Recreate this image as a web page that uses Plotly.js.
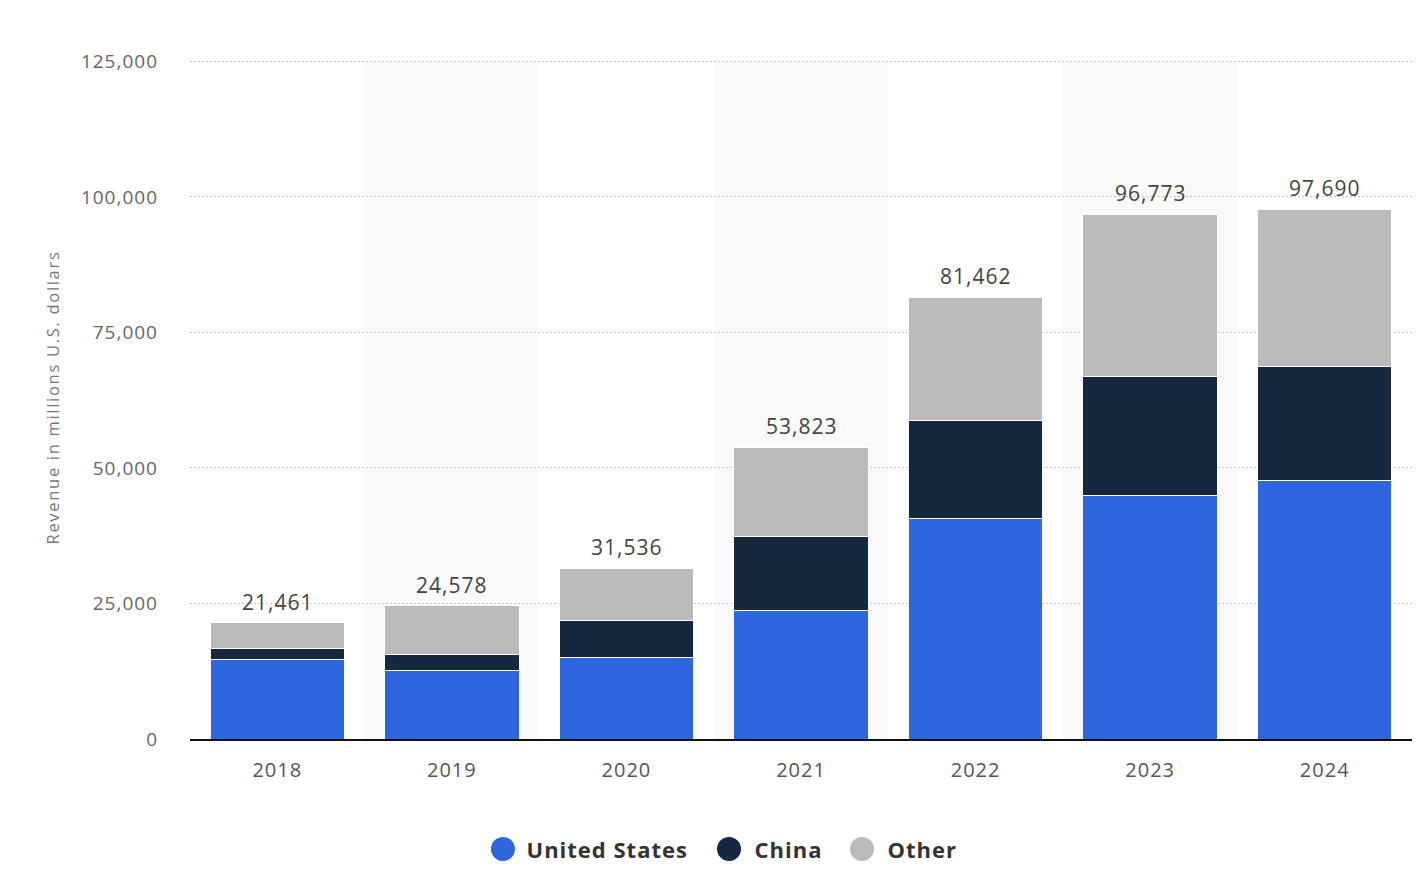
<!DOCTYPE html>
<html>
<head>
<meta charset="utf-8">
<script src="https://cdn.plot.ly/plotly-3.0.1.min.js"></script>
<style>
html,body{margin:0;padding:0;background:#fff;}
#chart{width:1424px;height:884px;}
#chart .xtick text, #chart .ytick text, #chart .annotation-text {letter-spacing:1px;}
#chart .g-ytitle text {letter-spacing:1.7px;}
</style>
</head>
<body>
<div id="chart"></div>
<script>
const years = ['2018','2019','2020','2021','2022','2023','2024'];
const unitedStates = [14740, 12570, 15110, 23780, 40640, 44960, 47640];
const china = [1870, 3000, 6720, 13640, 18180, 21840, 21130];
const other = [4851, 9008, 9706, 16403, 22642, 29973, 28920];
const totals = [21461, 24578, 31536, 53823, 81462, 96773, 97690];
const yTicks = [0, 25000, 50000, 75000, 100000, 125000];
const seriesNames = ['United States', 'China', 'Other'];
const seriesColors = ['#2d66de', '#162740', '#bababa'];

const lineW = {color: '#ffffff', width: 1};
const seriesValues = [unitedStates, china, other];

const traces = seriesValues.map((vals, i) => ({
  type: 'bar', name: seriesNames[i], x: years, y: vals,
  marker: {color: seriesColors[i], line: lineW}, showlegend: false
}));

const bands = [1, 3, 5].map(i => ({
  type: 'rect', xref: 'x', yref: 'y', x0: i - 0.5, x1: i + 0.5, y0: 0, y1: 125000,
  fillcolor: '#f9f9f9', line: {width: 0}, layer: 'below'
}));

// custom legend (large circle markers)
const legCircleX = [0.2561, 0.4411, 0.5499];
const legTextX = [0.2791, 0.4624, 0.5712];
const legY = -0.161;
const legendShapes = seriesNames.map((n, i) => ({
  type: 'circle', xref: 'paper', yref: 'paper', xsizemode: 'pixel', ysizemode: 'pixel',
  xanchor: legCircleX[i], yanchor: legY, x0: -12, x1: 12, y0: -12, y1: 12,
  fillcolor: seriesColors[i], line: {width: 0}
}));
const legendAnn = seriesNames.map((n, i) => ({
  xref: 'paper', yref: 'paper', x: legTextX[i], y: legY, xanchor: 'left', yanchor: 'middle',
  text: '<b>' + n + '</b>', showarrow: false,
  font: {family: 'Open Sans, sans-serif', size: 22, color: '#333'}
}));

const totalAnn = totals.map((t, i) => ({
  x: i, y: t, xref: 'x', yref: 'y', yanchor: 'bottom', yshift: 5,
  text: t.toLocaleString('en-US'), showarrow: false,
  font: {family: 'Open Sans, sans-serif', size: 21, color: '#444'}
}));

const layout = {
  width: 1424, height: 884,
  margin: {l: 190, r: 12, t: 56, b: 145},
  paper_bgcolor: '#ffffff', plot_bgcolor: '#ffffff',
  barmode: 'stack', bargap: 0.23,
  separators: '.,',
  font: {family: 'Open Sans, sans-serif', color: '#555'},
  xaxis: {
    type: 'category', range: [-0.5, years.length - 0.5], showgrid: false, zeroline: false,
    showline: true, linecolor: '#111', linewidth: 2,
    ticks: '', tickfont: {size: 20, color: '#555'}, ticklabelstandoff: 12,
    automargin: false
  },
  yaxis: {
    range: [0, 126000], tickvals: yTicks, tickformat: ',d',
    showgrid: true, gridcolor: '#c4c4c4', griddash: '2px,2px', gridwidth: 1,
    zeroline: false, showline: false, ticks: '',
    tickfont: {size: 19, color: '#666'}, ticklabelstandoff: 31,
    title: {text: 'Revenue in millions U.S. dollars', font: {size: 16.5, color: '#777'}, standoff: 24},
    automargin: false
  },
  shapes: bands.concat(legendShapes),
  annotations: totalAnn.concat(legendAnn),
  showlegend: false
};

Plotly.newPlot('chart', traces, layout, {displayModeBar: false, staticPlot: true});
</script>
</body>
</html>
